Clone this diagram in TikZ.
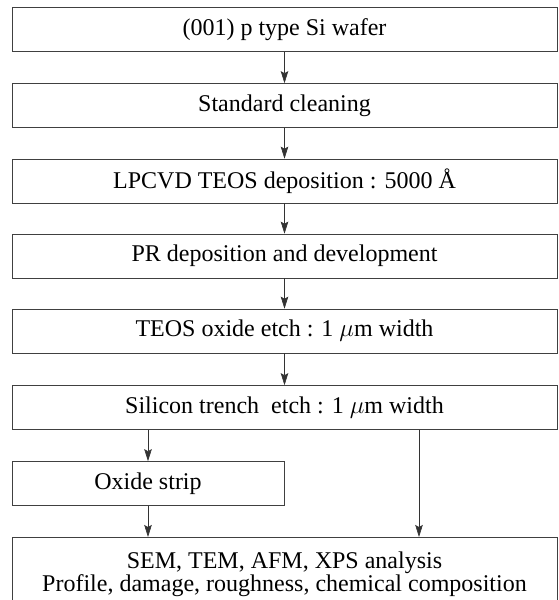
\documentclass[tikz,border=0pt]{standalone}
\usepackage{fontspec}
\setmainfont{Liberation Serif}
\usetikzlibrary{arrows.meta}

\begin{document}
\begin{tikzpicture}[x=1pt,y=1pt,
  stepbox/.style={draw=black!75, line width=0.6pt, minimum width=545pt, minimum height=44pt, inner sep=0pt, font=\fontsize{24}{21}\selectfont},
  flow/.style={draw=black!80, line width=0.6pt, -{Stealth[length=12pt,width=7.5pt,inset=2pt]}}]
\useasboundingbox (0,0) rectangle (558,600);
\clip (0,0) rectangle (558,600);

\foreach \n/\y/\t in {1/570.5/{(001) p type Si wafer},
  2/494.5/{Standard cleaning},
  3/419/{LPCVD TEOS deposition : 5000 Å},
  4/344/{PR deposition and development},
  5/269/{TEOS oxide etch : 1 $\mu$m width},
  6/192.5/{Silicon trench~ etch : 1 $\mu$m width}}
\node[stepbox] (b\n) at (284.5,\y) {\t};

\node[stepbox, minimum width=272pt] (strip) at (148,116.5) {Oxide strip};
\node[stepbox, anchor=north, minimum height=74pt, align=center] (anal) at (284.5,63)
  {SEM, TEM, AFM, XPS analysis\\Profile, damage, roughness, chemical composition};

\foreach \a/\b in {b1/b2, b2/b3, b3/b4, b4/b5, b5/b6}
\draw[flow] (\a) -- (\b);
\draw[flow] (b6.south -| strip) -- (strip);
\draw[flow] (strip) -- (anal.north -| strip);
\draw[flow] (b6.south -| 419,0) -- (anal.north -| 419,0);
\end{tikzpicture}
\end{document}
